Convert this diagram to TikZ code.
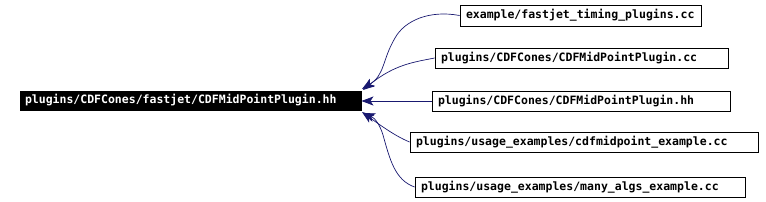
\documentclass[tikz,border=0pt]{standalone}
\usepackage{fontspec}
\setmonofont{DejaVu Sans Mono}
\usetikzlibrary{arrows.meta}
\definecolor{edgeblue}{RGB}{25,25,112}
\begin{document}
\begin{tikzpicture}[x=1pt,y=-1pt,
  box/.style={draw=black,line width=0.9pt,fill=white,inner xsep=6pt,inner ysep=0pt,
    align=left,font=\ttfamily\bfseries\fontsize{11.5}{12}\selectfont,minimum height=20pt},
  mainbox/.style={box,fill=black,text=white,minimum height=19pt,inner xsep=5pt},
  dep/.style={draw=edgeblue,line width=0.7pt,-{Stealth[length=12pt,width=9pt,inset=3pt]}}]
\useasboundingbox (0,0) rectangle (766,201);
\node[mainbox,text width=331pt] (m) at (190.5,100.5) {plugins/CDFCones/fastjet/CDFMidPointPlugin.hh};
\node[box,text width=229pt,minimum height=21pt] (b1) at (580.5,15.5) {example/fastjet\_timing\_plugins.cc};
\node[box,text width=281pt] (b2) at (581.5,58) {plugins/CDFCones/CDFMidPointPlugin.cc};
\node[box,text width=286pt] (b3) at (581,101) {plugins/CDFCones/CDFMidPointPlugin.hh};
\node[box,text width=336pt] (b4) at (584,142) {plugins/usage\_examples/cdfmidpoint\_example.cc};
\node[box,text width=318pt] (b5) at (580,187) {plugins/usage\_examples/many\_algs\_example.cc};
\coordinate (t1) at (362,89);
\coordinate (t2) at (363,90);
\coordinate (t4) at (362,112);
\coordinate (t5) at (363,113);
\draw[dep] (b1.west) .. controls (430,10) and (405,20) .. (395,38) .. controls (382,60) and (385,75) .. (t1);
\draw[dep] (b2.west) .. controls (415,62) and (395,64) .. (t2);
\draw[dep] (b3.west) -- (m.east |- b3.west);
\draw[dep] (b4.west) .. controls (395,136) and (380,125) .. (t4);
\draw[dep] (b5.west) .. controls (395,180) and (390,160) .. (383,135) .. controls (380,125) and (375,118) .. (t5);
\end{tikzpicture}
\end{document}
